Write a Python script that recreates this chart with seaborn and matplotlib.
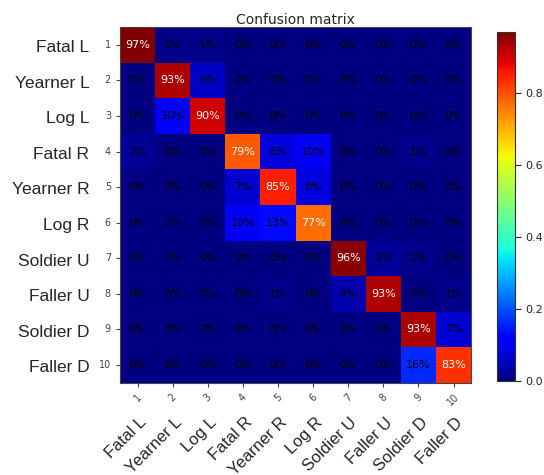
import matplotlib
matplotlib.use('Agg')
import matplotlib.pyplot as plt
import seaborn as sns
import numpy as np
import pandas as pd

# class names and confusion matrix (row-normalised, in percent)
class_names = ['Fatal L', 'Yearner L', 'Log L', 'Fatal R', 'Yearner R',
               'Log R', 'Soldier U', 'Faller U', 'Soldier D', 'Faller D']
tick_numbers = [str(i) for i in range(1, 11)]
conf_pct = [
    [97, 1, 1, 0, 0, 0, 0, 0, 0, 0],
    [0, 93, 6, 0, 0, 0, 0, 0, 0, 0],
    [0, 10, 90, 0, 0, 0, 0, 0, 0, 0],
    [2, 0, 0, 79, 8, 10, 0, 0, 1, 0],
    [0, 0, 0, 7, 85, 8, 0, 0, 0, 0],
    [0, 0, 0, 10, 13, 77, 0, 0, 0, 0],
    [0, 0, 0, 0, 0, 0, 96, 2, 1, 0],
    [0, 0, 0, 0, 1, 0, 4, 93, 0, 1],
    [0, 0, 0, 0, 0, 0, 0, 0, 93, 7],
    [0, 0, 0, 0, 0, 0, 0, 0, 16, 83],
]

cm = pd.DataFrame(np.array(conf_pct) / 100.0, index=tick_numbers, columns=tick_numbers)

sns.set_style('white')
plt.rcParams['font.family'] = ['DejaVu Sans']

fig = plt.figure(figsize=(5.44, 4.75), dpi=100)
ax = fig.add_axes([0.2206, 0.194, 0.6454, 0.749])
cax = fig.add_axes([0.914, 0.198, 0.033, 0.735])

sns.heatmap(cm, ax=ax, cbar_ax=cax, cmap='jet', vmin=0, vmax=cm.values.max(),
            square=False, annot=False)

# cell annotations
thresh = cm.values.max() / 2.0
for i in range(cm.shape[0]):
    for j in range(cm.shape[1]):
        v = cm.values[i, j]
        ax.text(j + 0.5, i + 0.5, '{:.0%}'.format(v), ha='center', va='center',
                fontsize=8, color='white' if v > thresh else 'black')

for s in ax.spines.values():
    s.set_visible(True)
    s.set_color('#444444')
    s.set_linewidth(0.8)

ax.set_title('Confusion matrix', fontsize=10, pad=2)
ax.tick_params(axis='both', which='both', length=3, width=0.8, color='#444444',
               labelsize=7, labelcolor='#444444', bottom=True, left=True)
ax.set_xticklabels(tick_numbers, rotation=45)
ax.set_yticklabels(tick_numbers, rotation=0)

# class names outside the numeric tick labels
for k, name in enumerate(class_names):
    ax.annotate(name, xy=(0, k + 0.5), xycoords=('axes fraction', 'data'),
                xytext=(-22, -2), textcoords='offset points', ha='right', va='center',
                fontsize=12.5, family='Liberation Sans')
    ax.annotate(name, xy=(k + 0.5, 0), xycoords=('data', 'axes fraction'),
                xytext=(1, -23), textcoords='offset points', ha='right', va='top',
                rotation=45, rotation_mode='anchor', fontsize=12, family='Liberation Sans')

cbar = ax.collections[0].colorbar
cbar.set_ticks([0.0, 0.2, 0.4, 0.6, 0.8])
cbar.ax.tick_params(labelsize=8, length=4)
cbar.outline.set_visible(True)
cbar.outline.set_edgecolor('#333333')
cbar.outline.set_linewidth(0.8)

plt.savefig('out.png', dpi=100)
plt.close()
